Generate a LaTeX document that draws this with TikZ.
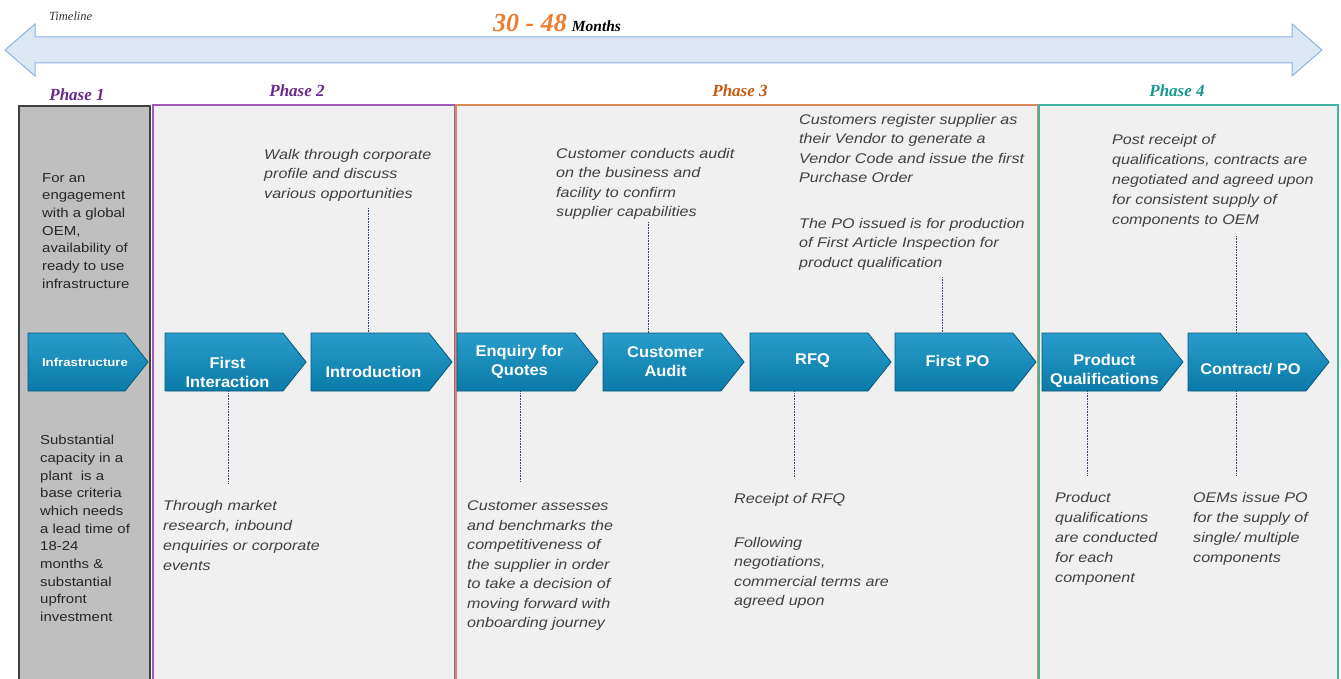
\documentclass[tikz,border=0pt]{standalone}
\usepackage{fontspec}
\setmainfont{Liberation Serif}
\setsansfont[FakeStretch=1.15]{Liberation Sans}
\newfontfamily\chevfont[FakeStretch=1.06]{Liberation Sans}
\usetikzlibrary{positioning,arrows.meta,calc,shapes.symbols}

\definecolor{chevblue}{HTML}{0A7BA8}
\definecolor{chevtop}{HTML}{2A9CCB}
\definecolor{chevedge}{HTML}{07587A}
\definecolor{tlfill}{HTML}{DDE7F4}
\definecolor{tledge}{HTML}{8DB4E2}
\definecolor{panelfill}{HTML}{F0F0F0}
\definecolor{grayfill}{HTML}{BFBFBF}
\definecolor{grayedge}{HTML}{404040}
\definecolor{purpedge}{HTML}{A05CB8}
\definecolor{purptext}{HTML}{6A2A8C}
\definecolor{orgedge}{HTML}{DA8A5A}
\definecolor{orgtext}{HTML}{C55A11}
\definecolor{monthorg}{HTML}{EE7D31}
\definecolor{tealedge}{HTML}{3DB3A0}
\definecolor{tealtext}{HTML}{17998A}
\definecolor{notegray}{HTML}{404040}
\definecolor{leadcol}{HTML}{2F4A7A}

\begin{document}
\begin{tikzpicture}[x=1pt,y=-1pt,
  chev/.style={signal,signal to=east,signal pointer angle=103,minimum width=141pt,minimum height=58pt,
    inner sep=0pt,draw=chevedge,line width=0.8pt,top color=chevtop,bottom color=chevblue},
  chevlbl/.style={text=white,align=center,inner sep=0pt,font=\chevfont\bfseries\fontsize{15.5}{19}\selectfont},
  note/.style={anchor=north west,align=left,inner sep=0pt,text=notegray,font=\sffamily\itshape\fontsize{14}{19.5}\selectfont},
  sidenote/.style={anchor=north west,align=left,inner sep=0pt,text=black!85,font=\sffamily\fontsize{13}{17.7}\selectfont},
  phaselbl/.style={anchor=base,font=\bfseries\itshape\fontsize{17}{20}\selectfont},
  leader/.style={densely dotted,draw=leadcol,line width=0.6pt}]
\useasboundingbox (0,0) rectangle (1341,679);
\fill[white] (0,0) rectangle (1341,679);

% timeline arrow
\draw[draw=tledge,fill=tlfill,line width=1pt] (5,50) -- (35,24) -- (35,37) -- (1292,37) -- (1292,24) -- (1322,50)
  -- (1292,76) -- (1292,63) -- (35,63) -- (35,76) -- cycle;
\node[anchor=base west,inner sep=0pt,text=black!80,font=\itshape\fontsize{12.5}{14}\selectfont] (tl) at (49,21) {Timeline};
\node[anchor=base west,inner sep=0pt] (months) at (493,32)
  {\textcolor{monthorg}{\bfseries\itshape\fontsize{26}{28}\selectfont 30 - 48}\hspace{5pt}{\bfseries\itshape\fontsize{15.5}{17}\selectfont Months}};

% phase panels
\draw[draw=grayedge,fill=grayfill,line width=1.6pt] (19,106) rectangle (150,690);
\draw[draw=purpedge,fill=panelfill,line width=1.6pt] (153,105) rectangle (455,690);
\draw[draw=orgedge,fill=panelfill,line width=1.6pt] (456,105) rectangle (1038,690);
\draw[draw=tealedge,fill=panelfill,line width=1.6pt] (1039,105) rectangle (1338,690);

\node[phaselbl,text=purptext] (ph1) at (77,101) {Phase 1};
\node[phaselbl,text=purptext] (ph2) at (297,97) {Phase 2};
\node[phaselbl,text=orgtext] (ph3) at (740,97) {Phase 3};
\node[phaselbl,text=tealtext] (ph4) at (1177,97) {Phase 4};

% chevrons
\node[chev,minimum width=120pt,
  label={[chevlbl,xshift=8.5pt,font=\sffamily\bfseries\fontsize{11.5}{13}\selectfont]center:Infrastructure}] (infra) at (76.5,362) {};
\foreach \nm/\cx/\txt/\dy in {first/224/{First\\Interaction}/-10, intro/370/Introduction/-10,
    enq/516/{Enquiry for\\Quotes}/0, audit/662/{Customer\\Audit}/0, rfq/809/RFQ/1.5,
    firstpo/954/First PO/1.5, prodq/1101/{Product\\Qualifications}/-8.5, contract/1247/{Contract/ PO}/-7}
  \node[chev,label={[chevlbl,xshift=3.5pt,yshift=\dy pt]center:\txt}] (\nm) at (\cx,362) {};

% notes above
\node[note] (walk) at (264,149) {Walk through corporate\\profile and discuss\\various opportunities};
\node[note] (audtxt) at (556,148) {Customer conducts audit\\on the business and\\facility to confirm\\supplier capabilities};
\node[note] (regtxt) at (799,114) {Customers register supplier as\\their Vendor to generate a\\Vendor Code and issue the first\\Purchase Order};
\node[note] (potxt) at (799,218) {The PO issued is for production\\of First Article Inspection for\\product qualification};
\node[note,font=\sffamily\itshape\fontsize{14}{20}\selectfont] (posttxt) at (1112,134) {Post receipt of\\qualifications, contracts are\\negotiated and agreed upon\\for consistent supply of\\components to OEM};

% notes below
\node[note,font=\sffamily\itshape\fontsize{14}{20}\selectfont] (mkttxt) at (163,500) {Through market\\research, inbound\\enquiries or corporate\\events};
\node[note] (asstxt) at (467,501) {Customer assesses\\and benchmarks the\\competitiveness of\\the supplier in order\\to take a decision of\\moving forward with\\onboarding journey};
\node[note] (rfqtxt) at (734,493) {Receipt of RFQ};
\node[note] (negtxt) at (734,537) {Following\\negotiations,\\commercial terms are\\agreed upon};
\node[note,font=\sffamily\itshape\fontsize{14}{20}\selectfont] (pqtxt) at (1055,492) {Product\\qualifications\\are conducted\\for each\\component};
\node[note,font=\sffamily\itshape\fontsize{14}{20}\selectfont] (oemtxt) at (1193,492) {OEMs issue PO\\for the supply of\\single/ multiple\\components};

% phase 1 side notes
\node[sidenote] (engtxt) at (42,173) {For an\\engagement\\with a global\\OEM,\\availability of\\ready to use\\infrastructure};
\node[sidenote] (captxt) at (40,435) {Substantial\\capacity in a\\plant\ \ is a\\base criteria\\which needs\\a lead time of\\18-24\\months \&\\substantial\\upfront\\investment};

% dotted leaders
\coordinate (walkend) at (368,208);
\coordinate (audend) at (648,222);
\coordinate (poend) at (942,277);
\coordinate (postend) at (1236,236);
\coordinate (mktend) at (228,483);
\coordinate (assend) at (520,482);
\coordinate (rfqend) at (794,477);
\coordinate (pqend) at (1087,475);
\coordinate (oemend) at (1236,475);
\draw[leader] (walkend) -- (walkend |- intro.north);
\draw[leader] (audend) -- (audend |- audit.north);
\draw[leader] (poend) -- (poend |- firstpo.north);
\draw[leader] (postend) -- (postend |- contract.north);
\draw[leader] (first.south -| mktend) -- (mktend);
\draw[leader] (enq.south -| assend) -- (assend);
\draw[leader] (rfq.south -| rfqend) -- (rfqend);
\draw[leader] (prodq.south -| pqend) -- (pqend);
\draw[leader] (contract.south -| oemend) -- (oemend);
\end{tikzpicture}
\end{document}
